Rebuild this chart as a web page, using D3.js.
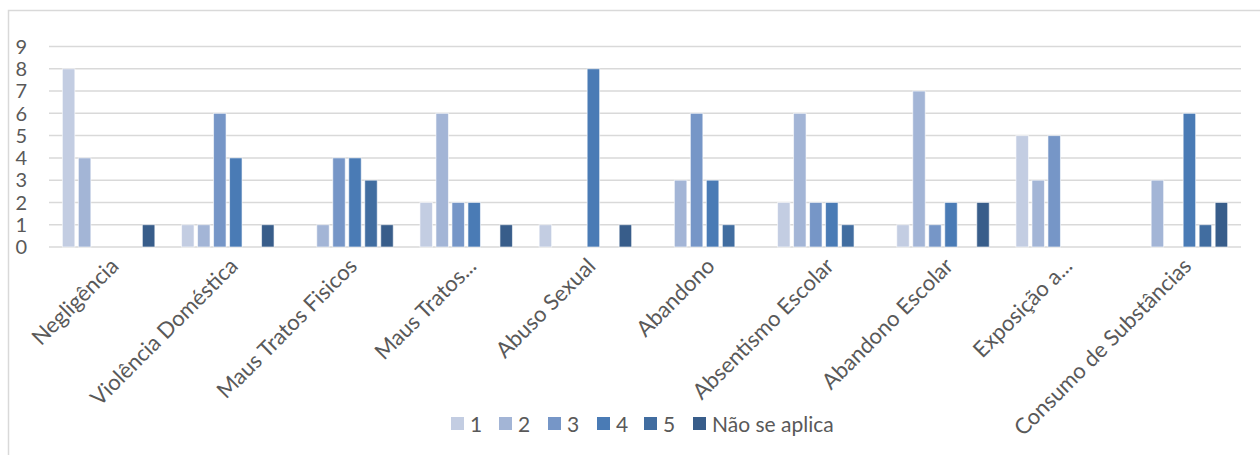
<!DOCTYPE html>
<html>
<head>
<meta charset="utf-8">
<script src="https://cdn.jsdelivr.net/npm/d3@7"></script>
<style>
  html, body { margin: 0; padding: 0; background: #fff; }
  svg { display: block; }
  text { font-family: Lato, "Noto Sans", sans-serif; fill: #595959; }
</style>
</head>
<body>
<svg id="chart" width="1260" height="455"></svg>
<script>
const categories = ["Negligência", "Violência Doméstica", "Maus Tratos Fisicos", "Maus Tratos...", "Abuso Sexual",
  "Abandono", "Absentismo Escolar", "Abandono Escolar", "Exposição a...", "Consumo de Substâncias"];
const seriesNames = ["1", "2", "3", "4", "5", "Não se aplica"];
const s1 = [8, 1, 0, 2, 1, 0, 2, 1, 5, 0];
const s2 = [4, 1, 1, 6, 0, 3, 6, 7, 3, 3];
const s3 = [0, 6, 4, 2, 0, 6, 2, 1, 5, 0];
const s4 = [0, 4, 4, 2, 8, 3, 2, 2, 0, 6];
const s5 = [0, 0, 3, 0, 0, 1, 1, 0, 0, 1];
const s6 = [1, 1, 1, 1, 1, 0, 0, 2, 0, 2];
const yTicks = [0, 1, 2, 3, 4, 5, 6, 7, 8, 9];
const colors = ["#C3CDE2", "#A3B5D6", "#7696C7", "#4A7BB5", "#416DA0", "#385D8A"];

const seriesValues = [s1, s2, s3, s4, s5, s6];
const svg = d3.select("#chart");

// chart area border
svg.append("path")
  .attr("d", "M8.5,470 L8.5,10.5 L1270,10.5")
  .attr("fill", "none").attr("stroke", "#d9d9d9").attr("stroke-width", 1.5);

const x0 = d3.scaleBand().domain(categories).range([49, 1241]).paddingInner(0).paddingOuter(0);
const x1 = d3.scaleBand().domain(seriesNames).range([0, x0.bandwidth()]).paddingInner(0.22).paddingOuter(0.835);
const y = d3.scaleLinear().domain([0, 9]).range([247, 46.5]);

// gridlines
svg.append("g").selectAll("line").data(yTicks).join("line")
  .attr("x1", 49).attr("x2", 1241)
  .attr("y1", d => y(d)).attr("y2", d => y(d))
  .attr("stroke", "#d9d9d9").attr("stroke-width", 1.5);

// y labels
svg.append("g").selectAll("text").data(yTicks).join("text")
  .attr("x", 27).attr("y", d => y(d)).attr("dy", "0.36em")
  .attr("text-anchor", "end").style("font-size", "20px")
  .text(d => d);

// bars
const groups = svg.append("g").selectAll("g").data(categories).join("g")
  .attr("transform", d => `translate(${x0(d)},0)`);
groups.selectAll("rect")
  .data((c, ci) => seriesNames.map((s, si) => ({ s, si, v: seriesValues[si][ci] })))
  .join("rect")
  .filter(d => d.v > 0)
  .attr("x", d => x1(d.s)).attr("width", x1.bandwidth())
  .attr("y", d => y(d.v)).attr("height", d => y(0) - y(d.v))
  .attr("fill", d => colors[d.si])
  .attr("stroke", "#ffffff").attr("stroke-opacity", 0.6).attr("stroke-width", 1);

// category labels
svg.append("g").selectAll("text").data(categories).join("text")
  .attr("transform", d => `translate(${x0(d) + x0.bandwidth() / 2 + 6},${262}) rotate(-45)`)
  .attr("text-anchor", "end").attr("dy", "0.35em")
  .style("font-size", "22px")
  .text(d => d);

// legend
const legendX = [451, 499, 548, 597, 644, 693];
const leg = svg.append("g").selectAll("g").data(seriesNames).join("g")
  .attr("transform", (d, i) => `translate(${legendX[i]},417)`);
leg.append("rect").attr("width", 13).attr("height", 13).attr("fill", (d, i) => colors[i]);
leg.append("text").attr("x", 19).attr("y", 7).attr("dy", "0.36em")
  .style("font-size", "21px").text(d => d);
</script>
</body>
</html>
